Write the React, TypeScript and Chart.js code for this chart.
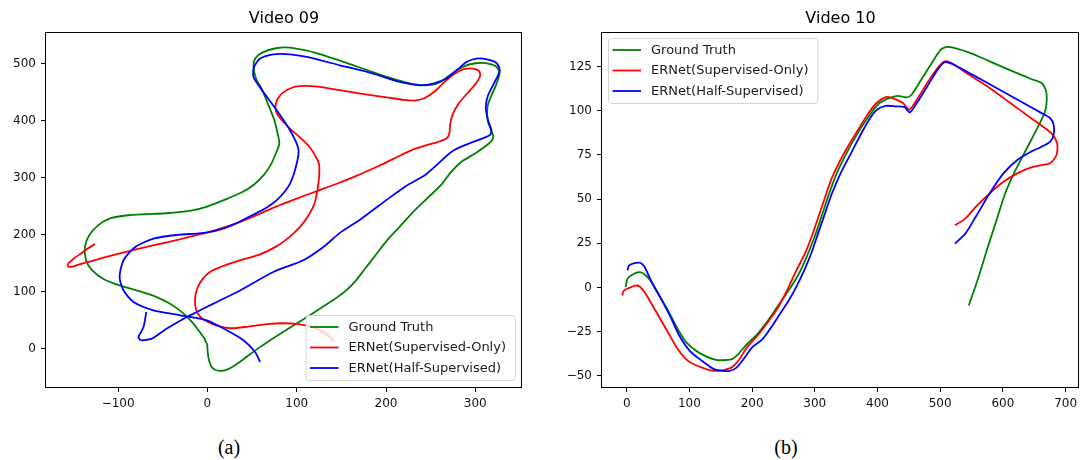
import React, { useEffect, useRef } from "react";
import { Chart, registerables } from "chart.js";

Chart.register(...registerables);

const FONT = '"DejaVu Sans", sans-serif';
Chart.defaults.font.family = FONT;

type Pt = [number, number];

const seriesLabels = ["Ground Truth", "ERNet(Supervised-Only)", "ERNet(Half-Supervised)"];
const seriesColors = ["#008000", "#ff0000", "#0000ff"];

// ---------- Video 09 ----------
const v09Title = "Video 09";
const v09GroundTruth: Pt[] = [
  [-0.4, 9.4], [0.4, -8], [2, -22], [5, -33], [10, -38], [16, -39], [22, -37], [30, -30], [40, -19], [59, 3],
  [88.2, 32.7], [115.2, 59.1], [138.3, 82.5], [153.8, 100.0], [165.3, 117.5], [176.9, 140.9], [188.4, 164.3],
  [200.0, 187.7], [215.4, 214.0], [230.8, 240.4], [246.2, 263.7], [261.7, 287.1], [273.2, 310.5], [284.8, 328.1],
  [300.2, 342.7], [315.6, 360.2], [320.2, 370.8], [317.5, 383.6], [313.7, 401.2], [313.7, 424.6], [317.5, 442.1],
  [323.3, 462.6], [327.2, 483.0], [323.3, 494.7], [311.8, 500.6], [300.2, 500.6], [286.7, 494.7], [273.2, 481.9],
  [261.7, 468.4], [250.1, 462.6], [236.6, 462.6], [223.1, 466.7], [200.0, 477.2], [173.0, 491.8], [146.1, 506.4],
  [122.9, 518.1], [107.5, 524.0], [92.1, 528.1], [76.7, 526.9], [61.3, 519.3], [53.6, 509.4], [51.6, 494.7],
  [54.3, 474.3], [61.3, 453.8], [69.0, 424.6], [74.8, 401.2], [78.6, 377.8], [80.5, 359.1], [76.7, 342.7],
  [70.9, 322.2], [63.2, 304.7], [51.6, 287.1], [38.2, 273.7], [18.9, 260.8], [-0.4, 249.1], [-19.7, 241.5],
  [-46.6, 237.4], [-69.7, 235.7], [-89.0, 233.9], [-108.3, 228.7], [-121.8, 217.0], [-132.2, 199.4],
  [-137.2, 178.9], [-136.0, 155.6], [-129.5, 138.0], [-116.0, 121.6], [-96.7, 109.9], [-77.5, 101.2],
  [-60.1, 92.4], [-42.8, 79.5], [-29.3, 64.9], [-17.7, 47.4], [-8.9, 29.8], [-3.5, 18.1], [-1.2, 9.4],
];
const v09SupervisedOnly: Pt[] = [
  [-125.9, 183.6], [-133.6, 176.0], [-141.3, 167.3], [-150.2, 157.3], [-155.6, 149.7], [-156.4, 145.0],
  [-152.9, 143.3], [-145.2, 146.8], [-127.8, 154.4], [-104.6, 164.3], [-77.6, 174.9], [-46.7, 186.0],
  [-15.8, 197.7], [7.3, 207.0], [30.5, 218.7], [53.7, 233.3], [76.8, 249.1], [100.0, 263.2], [123.2, 276.6],
  [146.3, 290.1], [169.5, 304.7], [192.7, 321.1], [212.0, 335.7], [227.4, 347.4], [242.9, 355.6], [258.3, 362.6],
  [268.0, 369.0], [271.0, 377.8], [271.8, 392.4], [274.5, 409.9], [281.5, 430.4], [291.1, 447.9], [300.8, 465.5],
  [305.4, 478.4], [303.9, 487.7], [296.9, 491.2], [287.3, 490.1], [277.6, 483.0], [266.0, 468.4], [254.4, 450.9],
  [242.9, 439.2], [231.3, 435.1], [219.7, 436.3], [200.4, 440.9], [173.4, 446.8], [146.3, 453.8], [123.2, 459.6],
  [107.7, 460.8], [96.1, 458.5], [84.6, 449.1], [78.0, 436.3], [76.1, 421.6], [78.8, 409.9], [86.5, 395.3],
  [96.1, 380.7], [105.8, 367.3], [115.4, 351.5], [122.4, 333.9], [125.1, 322.2], [125.1, 301.8], [123.2, 278.4],
  [120.1, 255.0], [113.5, 234.5], [103.9, 214.0], [92.3, 196.5], [76.8, 178.9], [57.5, 164.3], [38.2, 155.6],
  [18.9, 145.6], [3.5, 135.1], [-6.2, 120.5], [-12.0, 102.9], [-13.9, 85.4], [-12.7, 67.8], [-8.1, 56.1],
  [-0.4, 47.4], [11.2, 39.8], [26.6, 35.7], [45.9, 38.6], [69.1, 43.3], [84.6, 44.4], [100.0, 43.3],
  [115.4, 38.6], [129.0, 29.8], [136.7, 21.1], [142.5, 12.3],
];
const v09HalfSupervised: Pt[] = [
  [-68.5, 64.2], [-70, 50], [-71.6, 37.9], [-75, 27], [-77.2, 20.4], [-75, 15], [-71.6, 14.6], [-62.2, 17.5],
  [-45.4, 35.1], [-23.0, 55.4], [-11.9, 64.2], [6.7, 78.9], [36.6, 102], [73.8, 134.4], [107.4, 154.9],
  [129.8, 178.2], [148.4, 203], [170.8, 226], [200, 260], [222, 285], [245, 306], [275, 347], [297.5, 362.5],
  [316.2, 374.2], [318.1, 383], [314.3, 400.5], [311.7, 423.9], [314.3, 444.4], [321.8, 467.7], [327.4, 488.2],
  [323.7, 501], [314.3, 507], [301.3, 508.8], [290.2, 502.8], [279, 488.2], [267.8, 473.7], [252.8, 464.9],
  [237.9, 461.9], [215.5, 467.7], [185.7, 482.5], [148.4, 497], [111.2, 511.6], [92.5, 516.3], [73.8, 516.3],
  [59, 508.8], [52.2, 494], [51.5, 476.5], [62.6, 450.2], [77.6, 418.1], [92.5, 383], [101.8, 350.9],
  [100, 324.6], [92.5, 289.5], [80, 264], [65, 246], [50, 234], [30, 218], [10, 207], [-10, 202], [-30.5, 200],
  [-60.4, 193], [-80.9, 178.2], [-94, 154.9], [-98.4, 125.6], [-94, 102.3], [-82.8, 81.8], [-60.4, 67.2],
  [-30.5, 58.4], [-0.7, 49.6], [21.7, 32.1], [40.3, 14.6], [53.4, -6], [59, -23.5],
];
const v09XTicks = [-100, 0, 100, 200, 300];
const v09YTicks = [0, 100, 200, 300, 400, 500];
const v09XLimits = [-180.8, 352.3];
const v09YLimits = [-67.4, 555.4];

// ---------- Video 10 ----------
const v10Title = "Video 10";
const v10GroundTruth: Pt[] = [
  [-1.7, 0.2], [1.1, 4.9], [9.4, 7.4], [20.5, 8.7], [28.7, 7.4], [39.8, 3.0], [53.6, -5.5], [67.4, -14.0],
  [81.3, -23.5], [95.1, -31.1], [114.4, -36.7], [142.1, -40.9], [166.9, -40.7], [178.0, -37.7], [191.8, -32.0],
  [208.4, -26.3], [225.0, -18.8], [241.6, -10.2], [258.2, -1.7], [274.7, 7.8], [286, 16.5], [299, 28],
  [310.6, 40], [321.7, 52], [335.5, 65], [352.1, 77], [368.7, 87.5], [385.3, 96.5], [401.8, 104],
  [418.5, 107.2], [432.3, 108.5], [446.1, 107.6], [454.4, 109.1], [468.2, 116.7], [484.8, 126.1], [501.4, 134.7],
  [512.4, 136.2], [545.6, 133.1], [578.8, 128.0], [611.9, 122.9], [645.1, 118.0], [661.7, 115.7], [668.3, 111.9],
  [670.0, 106.3], [667.2, 99.6], [658.9, 93.0], [645.1, 83.5], [631.3, 74.1], [617.5, 64.6], [603.6, 53.2],
  [589.8, 38.1], [576.0, 22.9], [559.4, 4.0], [545.6, -10.2],
];
const v10SupervisedOnly: Pt[] = [
  [-7.2, -4.5], [-4.4, -1.7], [3.9, -0.2], [13.8, 1.1], [20.5, 0.6], [28.7, -2.7], [39.8, -9.3], [53.6, -17.8],
  [67.4, -26.3], [81.3, -34.8], [97.8, -41.5], [120.0, -45.3], [142.1, -47.2], [164.2, -45.8], [178.0, -41.5],
  [191.8, -33.9], [208.4, -27.3], [225.0, -19.7], [241.6, -11.2], [255.5, -1.7], [269.3, 8.7], [285.9, 20.5],
  [299.6, 33.5], [313.4, 48], [327.3, 62], [346.6, 76], [366.0, 87.5], [385.3, 98.5], [399.1, 104.7],
  [413.0, 107.8], [424.0, 107.2], [440.6, 104.4], [450.5, 100.6], [462.7, 106.3], [479.3, 115.7], [495.9, 124.2],
  [506.9, 128.0], [518.0, 127.1], [545.6, 120.5], [578.8, 112.9], [611.9, 104.4], [645.1, 95.8], [677.2, 87.3],
  [686.6, 81.6], [685.5, 75.0], [675.5, 70.3], [661.7, 69.3], [645.1, 68.0], [623.0, 64.6], [600.9, 59.8],
  [578.8, 53.2], [556.7, 45.6], [540.1, 39.0], [523.5, 35.2],
];
const v10HalfSupervised: Pt[] = [
  [1.1, 9.7], [3.9, 12.5], [12.2, 13.8], [21.6, 14.0], [28.7, 11.6], [39.8, 3.0], [56.4, -7.4], [70.2, -16.9],
  [84.0, -27.3], [100.6, -35.8], [120.0, -41.5], [139.3, -46.2], [153.1, -47.2], [164.2, -47.2], [175.2, -45.3],
  [186.3, -40.5], [200.1, -33.9], [216.7, -29.2], [230.5, -22.5], [244.3, -15.0], [258.2, -7.5], [269.3, -0.5],
  [283.1, 9.7], [294.1, 19.1], [305.2, 30.5], [316.2, 41.9], [327.3, 53.2], [341.1, 64.6], [357.7, 75.9],
  [374.3, 87.3], [388.1, 95.8], [399.1, 100.6], [413.0, 102.8], [429.5, 102.5], [443.3, 102.1], [451.6, 99.1],
  [462.7, 104.4], [479.3, 113.8], [495.9, 123.3], [506.9, 127.5], [518.0, 126.7], [551.2, 120.5], [589.8, 112.9],
  [628.5, 105.3], [661.7, 98.7], [675.5, 95.8], [681.0, 92.0], [681.0, 86.4], [675.5, 82.6], [661.7, 79.7],
  [645.1, 76.9], [623.0, 72.2], [600.9, 64.6], [578.8, 53.2], [556.7, 40.0], [540.1, 30.5], [523.5, 24.8],
];
const v10XTicks = [0, 100, 200, 300, 400, 500, 600, 700];
const v10YTicks = [-50, -25, 0, 25, 50, 75, 100, 125];
const v10XLimits = [-39.4, 721.4];
const v10YLimits = [-56.3, 144.6];

const fmt = (v: number) => (v < 0 ? "\u2212" + Math.abs(v) : String(v));

const framePlugin = {
  id: "frame",
  afterDatasetsDraw(chart: any) {
    const { ctx, chartArea: a } = chart;
    ctx.save();
    ctx.strokeStyle = "#000";
    ctx.lineWidth = 1;
    const l = Math.round(a.left) - 0.5;
    const t = Math.round(a.top) + 0.5;
    const r = Math.round(a.right) - 0.5;
    const b = Math.round(a.bottom) + 0.5;
    ctx.strokeRect(l, t, r - l, b - t);
    ctx.restore();
  },
};

const boxLegendPlugin = {
  id: "boxLegend",
  afterDraw(chart: any, _args: any, opts: any) {
    const { ctx, chartArea: a } = chart;
    const ds = chart.data.datasets;
    ctx.save();
    ctx.font = `13px ${FONT}`;
    const maxW = Math.max(...ds.map((d: any) => ctx.measureText(d.label).width));
    const w = 42.5 + maxW + 9.5;
    const h = 65;
    const inset = 6.5;
    const x0 = opts.corner === "lr" ? a.right - inset - w : a.left + inset;
    const y0 = opts.corner === "lr" ? a.bottom - inset - h : a.top + inset;
    ctx.beginPath();
    ctx.roundRect(x0, y0, w, h, 3);
    ctx.fillStyle = "rgba(255,255,255,0.8)";
    ctx.fill();
    ctx.strokeStyle = "#d6d6d6";
    ctx.lineWidth = 1;
    ctx.stroke();
    const rows = [11.5, 32, 52.5];
    ds.forEach((d: any, i: number) => {
      const y = y0 + rows[i];
      ctx.beginPath();
      ctx.moveTo(x0 + 4, y);
      ctx.lineTo(x0 + 32.5, y);
      ctx.strokeStyle = d.borderColor;
      ctx.lineWidth = 1.8;
      ctx.stroke();
      ctx.fillStyle = "#1a1a1a";
      ctx.textBaseline = "middle";
      ctx.textAlign = "left";
      ctx.fillText(d.label, x0 + 42.5, y + 0.5);
    });
    ctx.restore();
  },
};

type Props = {
  left: number;
  width: number;
  title: string;
  series: Pt[][];
  xLimits: number[];
  yLimits: number[];
  xTicks: number[];
  yTicks: number[];
  yAxisWidth: number;
  padRight: number;
  corner: string;
};

const CANVAS_H = 420;
const X_AXIS_H = 33;

function makeScale(limits: number[], ticks: number[], isX: boolean, size: number) {
  return {
    type: "linear",
    min: limits[0],
    max: limits[1],
    afterBuildTicks: (s: any) => {
      s.ticks = ticks.map((value) => ({ value }));
    },
    afterFit: (s: any) => {
      if (isX) s.height = size;
      else s.width = size;
    },
    grid: { drawOnChartArea: false, drawTicks: true, tickLength: 5, color: "#000", lineWidth: 1 },
    border: { display: false },
    ticks: {
      color: "#111",
      font: { family: FONT, size: 12 },
      padding: 5,
      autoSkip: false,
      maxRotation: 0,
      minRotation: 0,
      callback: (v: any) => fmt(Number(v)),
    },
  };
}

function TrajectoryChart(p: Props) {
  const ref = useRef<HTMLCanvasElement>(null);
  useEffect(() => {
    const chart = new Chart(ref.current as HTMLCanvasElement, {
      type: "scatter",
      data: {
        datasets: p.series.map((pts, i) => ({
          label: seriesLabels[i],
          data: pts.map(([x, y]) => ({ x, y })),
          borderColor: seriesColors[i],
          backgroundColor: seriesColors[i],
          borderWidth: 1.8,
          pointRadius: 0,
          pointHoverRadius: 0,
          showLine: true,
          tension: 0.25,
          fill: false,
          order: 3 - i,
        })),
      },
      options: {
        responsive: false,
        animation: false,
        events: [],
        layout: { padding: { left: 0, right: p.padRight, top: 0, bottom: 0 } },
        scales: {
          x: makeScale(p.xLimits, p.xTicks, true, X_AXIS_H),
          y: makeScale(p.yLimits, p.yTicks, false, p.yAxisWidth),
        } as any,
        plugins: {
          legend: { display: false },
          tooltip: { enabled: false },
          title: {
            display: true,
            text: p.title,
            color: "#000",
            fullSize: false,
            font: { family: FONT, size: 16, weight: "normal", lineHeight: 1.2 },
            padding: { top: 9, bottom: 3.8 },
          },
          boxLegend: { corner: p.corner },
        } as any,
      },
      plugins: [framePlugin, boxLegendPlugin],
    } as any);
    return () => chart.destroy();
  }, []);
  return (
    <canvas
      ref={ref}
      width={p.width}
      height={CANVAS_H}
      style={{ position: "absolute", left: p.left, top: 0, width: p.width, height: CANVAS_H }}
    />
  );
}

const captionStyle = (x: number): React.CSSProperties => ({
  position: "absolute",
  left: x,
  top: 447,
  transform: "translate(-50%, -50%)",
  fontFamily: '"Liberation Serif", "Times New Roman", serif',
  fontSize: 20,
  lineHeight: 1,
  whiteSpace: "nowrap",
  color: "#000",
});

export default function App() {
  return (
    <div style={{ position: "absolute", left: 0, top: 0, width: 1083, height: 460, background: "#fff", overflow: "hidden" }}>
      <TrajectoryChart
        left={0}
        width={540}
        title={v09Title}
        series={[v09GroundTruth, v09SupervisedOnly, v09HalfSupervised]}
        xLimits={v09XLimits}
        yLimits={v09YLimits}
        xTicks={v09XTicks}
        yTicks={v09YTicks}
        yAxisWidth={46}
        padRight={18}
        corner="lr"
      />
      <TrajectoryChart
        left={540}
        width={543}
        title={v10Title}
        series={[v10GroundTruth, v10SupervisedOnly, v10HalfSupervised]}
        xLimits={v10XLimits}
        yLimits={v10YLimits}
        xTicks={v10XTicks}
        yTicks={v10YTicks}
        yAxisWidth={62}
        padRight={4}
        corner="ul"
      />
      <div style={captionStyle(229)}>(a)</div>
      <div style={captionStyle(786)}>(b)</div>
    </div>
  );
}
